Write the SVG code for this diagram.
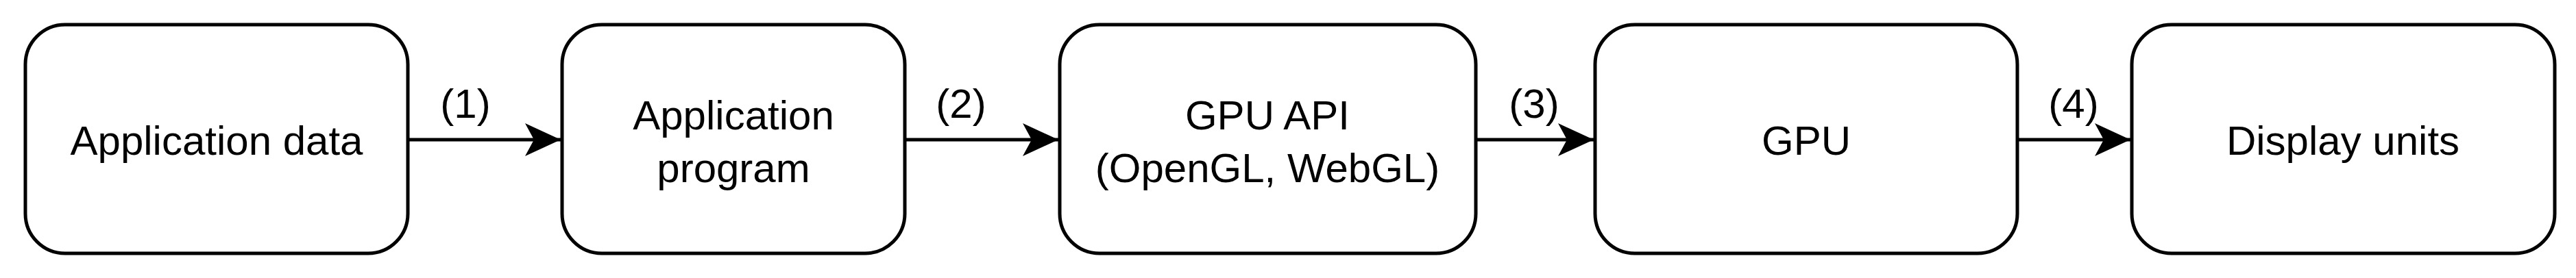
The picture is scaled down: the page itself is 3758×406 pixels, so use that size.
<svg xmlns="http://www.w3.org/2000/svg" width="3758" height="406" viewBox="0 0 3758 406">
<style>
.b{fill:#fff;stroke:#000;stroke-width:5}
.t{font-family:"Liberation Sans",Arial,sans-serif;font-size:60px;text-anchor:middle;fill:#000}
.c{stroke:#000;stroke-width:5;fill:none}
</style>
<defs><marker id="a" markerUnits="userSpaceOnUse" markerWidth="60" markerHeight="50" refX="52" refY="24" orient="auto"><path d="M0,0 L52,24 L0,48 L13,24 Z" fill="#000"/></marker></defs>
<rect width="3758" height="406" fill="#fff"/>
<g id="n1"><rect class="b" x="37" y="36" width="558" height="334" rx="58"/><text class="t" x="316" y="226">Application data</text></g>
<g id="n2"><rect class="b" x="820" y="36" width="500" height="334" rx="58"/><text class="t" x="1070" y="189">Application</text><text class="t" x="1070" y="266">program</text></g>
<g id="n3"><rect class="b" x="1546" y="36" width="607" height="334" rx="58"/><text class="t" x="1849" y="189">GPU API</text><text class="t" x="1849" y="266">(OpenGL, WebGL)</text></g>
<g id="n4"><rect class="b" x="2327" y="36" width="616" height="334" rx="58"/><text class="t" x="2635" y="226">GPU</text></g>
<g id="n5"><rect class="b" x="3110" y="36" width="617" height="334" rx="58"/><text class="t" x="3418" y="226">Display units</text></g>
<g id="connectors">
<path class="c" d="M595,204 H818" marker-end="url(#a)"/>
<path class="c" d="M1320,204 H1544" marker-end="url(#a)"/>
<path class="c" d="M2153,204 H2325" marker-end="url(#a)"/>
<path class="c" d="M2943,204 H3108" marker-end="url(#a)"/>
<text class="t" x="679" y="172">(1)</text>
<text class="t" x="1402" y="172">(2)</text>
<text class="t" x="2238" y="172">(3)</text>
<text class="t" x="3025" y="172">(4)</text>
</g>
</svg>
